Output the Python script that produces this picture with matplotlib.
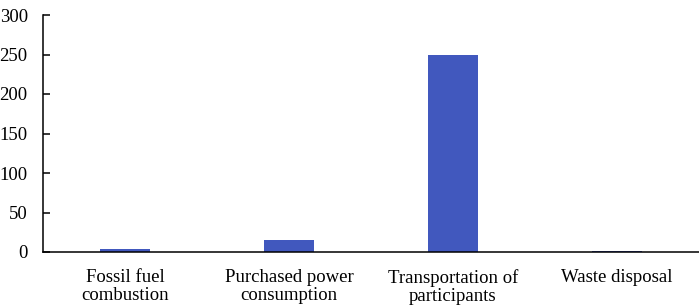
import matplotlib
matplotlib.use("Agg")
import matplotlib.pyplot as plt

categories = ["Fossil fuel\ncombustion", "Purchased power\nconsumption",
              "Transportation of\nparticipants", "Waste disposal"]
emissions = [3.8, 15.5, 250, 1.5]
y_ticks = [0, 50, 100, 150, 200, 250, 300]

plt.rcParams["font.family"] = "Liberation Serif"

fig = plt.figure(figsize=(6.99, 3.05), dpi=100)
ax = fig.add_axes([43 / 699, 1 - 252 / 305, 1 - 43 / 699, 237 / 305])

x = range(len(categories))
ax.bar(x, emissions, width=0.31, color="#4158BE")

ax.set_xlim(-0.5, len(categories) - 0.5)
ax.set_ylim(0, 300)
ax.set_yticks(y_ticks)
ax.set_xticks(list(x))
ax.set_xticklabels(categories, fontsize=13.5, linespacing=1.1)
ax.tick_params(axis="y", direction="in", length=5, width=1.1, labelsize=13.5, pad=11)
ax.tick_params(axis="x", length=0, pad=12)

for side in ("top", "right"):
    ax.spines[side].set_visible(False)
for side in ("left", "bottom"):
    ax.spines[side].set_linewidth(1.1)
    ax.spines[side].set_color("black")

fig.savefig("out.png", dpi=100)
